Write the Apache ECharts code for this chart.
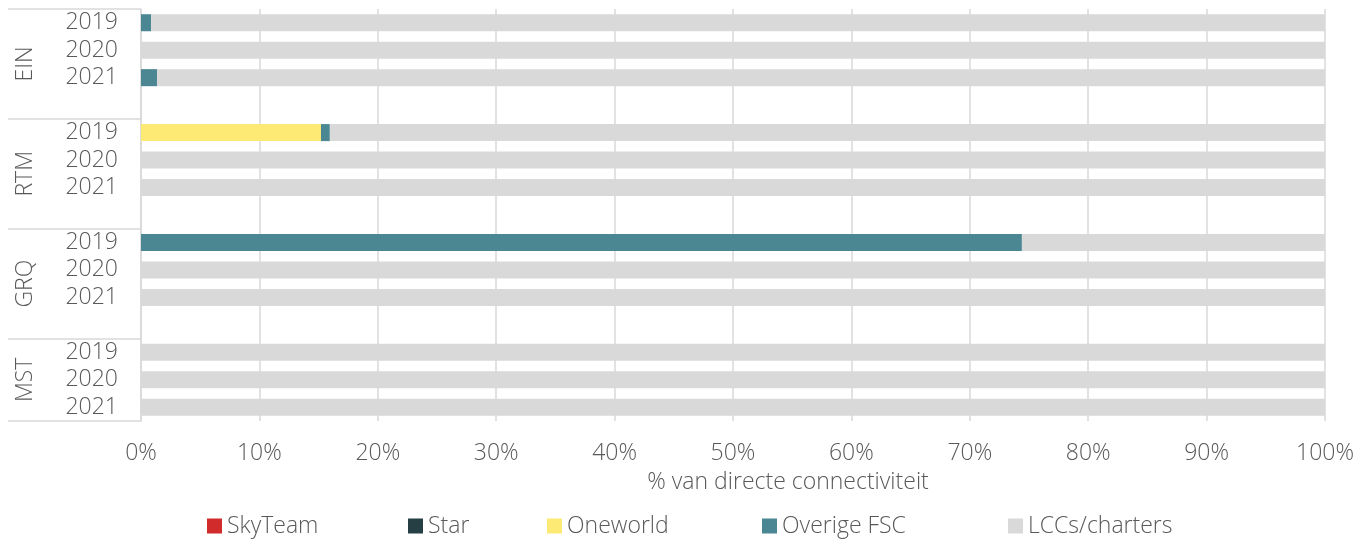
<!DOCTYPE html>
<html>
<head>
<meta charset="utf-8">
<script src="https://cdn.jsdelivr.net/npm/echarts@6/dist/echarts.min.js"></script>
<style>
  html, body { margin: 0; padding: 0; background: #ffffff; }
  #chart { width: 1371px; height: 541px; }
</style>
</head>
<body>
<div id="chart"></div>
<script>
// Rows top to bottom: three years per airport, an empty row between airports
const years = ['2019', '2020', '2021', '', '2019', '2020', '2021', '', '2019', '2020', '2021', '', '2019', '2020', '2021'];
const airports = ['EIN', 'RTM', 'GRQ', 'MST'];
const airportCenters = [2, 6, 10, 13.5];   // row positions of the airport labels
const groupBounds = [0, 4, 8, 12, 15];      // row positions of the separators

// Share of direct connectivity (%)
const skyTeam   = [0, 0, 0, null, 0, 0, 0, null, 0, 0, 0, null, 0, 0, 0];
const star      = [0, 0, 0, null, 0, 0, 0, null, 0, 0, 0, null, 0, 0, 0];
const oneworld  = [0, 0, 0, null, 15.2, 0, 0, null, 0, 0, 0, null, 0, 0, 0];
const overige   = [0.85, 0, 1.35, null, 0.75, 0, 0, null, 74.4, 0, 0, null, 0, 0, 0];
const lccs      = [99.15, 100, 98.65, null, 84.05, 100, 100, null, 25.6, 100, 100, null, 100, 100, 100];

const xTicks = [0, 10, 20, 30, 40, 50, 60, 70, 80, 90, 100];

const FONT = '"Open Sans", "Noto Sans", sans-serif';
const FW = 350;
const TXT = '#595959';
const GRIDC = '#d9d9d9';

const seriesDefs = [
  { name: 'SkyTeam', data: skyTeam, color: '#d22b2b', labelWidth: 121 },
  { name: 'Star', data: star, color: '#253f44', labelWidth: 59 },
  { name: 'Oneworld', data: oneworld, color: '#fdea74', labelWidth: 135 },
  { name: 'Overige FSC', data: overige, color: '#4a8792', labelWidth: 166 },
  { name: 'LCCs/charters', data: lccs, color: '#d9d9d9', labelWidth: 172 }
];

const chart = echarts.init(document.getElementById('chart'));
chart.setOption({
  animation: false,
  backgroundColor: '#ffffff',
  textStyle: { fontFamily: FONT, fontWeight: FW, color: TXT },
  grid: { left: 141, right: 46, top: 9, bottom: 120, containLabel: false },
  legend: {
    top: 509,
    left: 202,
    itemWidth: 15,
    itemHeight: 15,
    itemGap: 60,
    icon: 'rect',
    textStyle: { fontFamily: FONT, fontWeight: FW, fontSize: 23, lineHeight: 24, color: TXT },
    data: seriesDefs.map(s => ({ name: s.name, textStyle: { width: s.labelWidth } }))
  },
  xAxis: {
    type: 'value',
    min: xTicks[0],
    max: xTicks[xTicks.length - 1],
    interval: 10,
    axisLine: { show: false },
    axisTick: { show: false },
    splitLine: { show: true, lineStyle: { color: GRIDC, width: 1.5 } },
    axisLabel: { formatter: v => v + '%', fontFamily: FONT, fontWeight: FW, fontSize: 23, color: TXT, margin: 21 },
    name: '% van directe connectiviteit',
    nameLocation: 'middle',
    nameGap: 50,
    nameTextStyle: { fontFamily: FONT, fontWeight: FW, fontSize: 23, color: TXT, padding: [0, 0, 0, 110] }
  },
  yAxis: [
    {
      type: 'category',
      data: years,
      inverse: true,
      axisLine: { show: true, lineStyle: { color: GRIDC, width: 1.5 } },
      axisTick: { show: false },
      splitLine: { show: false },
      axisLabel: { fontFamily: FONT, fontWeight: FW, fontSize: 23, color: TXT, margin: 23, interval: 0 }
    },
    {
      type: 'value',
      position: 'left',
      inverse: true,
      min: 0,
      max: 15,
      axisLine: { show: false },
      splitLine: { show: false },
      axisTick: {
        show: true,
        customValues: groupBounds,
        length: 133,
        lineStyle: { color: GRIDC, width: 1.5 }
      },
      axisLabel: {
        show: true,
        customValues: airportCenters,
        rotate: 90,
        margin: 104,
        fontFamily: FONT,
        fontWeight: FW,
        fontSize: 23,
        color: TXT,
        formatter: v => {
          const i = airportCenters.indexOf(v);
          return i >= 0 ? airports[i] : '';
        }
      }
    }
  ],
  series: seriesDefs.map(s => ({
    name: s.name,
    type: 'bar',
    stack: 'total',
    yAxisIndex: 0,
    barCategoryGap: '38%',
    data: s.data,
    itemStyle: { color: s.color },
    emphasis: { disabled: true }
  }))
});
</script>
</body>
</html>
